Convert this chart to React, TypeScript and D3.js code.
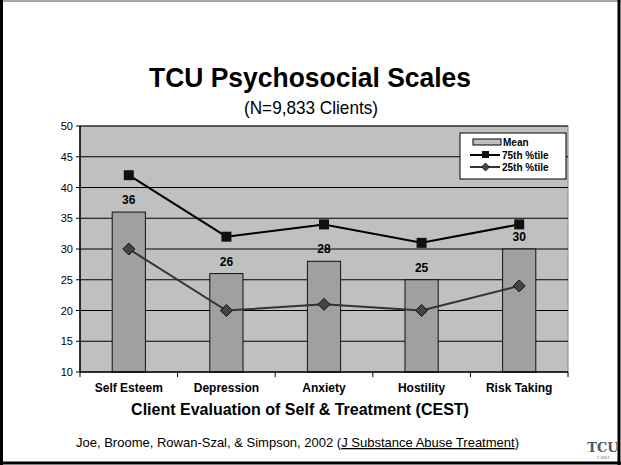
import React from "react";
import * as d3 from "d3";

const categories = ["Self Esteem", "Depression", "Anxiety", "Hostility", "Risk Taking"];
const meanValues = [36, 26, 28, 25, 30];
const p75Values = [42, 32, 34, 31, 34];
const p25Values = [30, 20, 21, 20, 24];
const yTicks = [10, 15, 20, 25, 30, 35, 40, 45, 50];

const W = 621;
const H = 465;
const plot = { left: 80, right: 568, top: 126, bottom: 372 };
const font = "'Liberation Sans', Arial, sans-serif";

export default function App() {
  const x = d3
    .scaleBand<string>()
    .domain(categories)
    .range([plot.left, plot.right])
    .paddingInner(0.66)
    .paddingOuter(0.33);
  const band = d3.scaleBand<string>().domain(categories).range([plot.left, plot.right]);
  const y = d3.scaleLinear().domain([10, 50]).range([plot.bottom, plot.top]);
  const cx = (c: string) => (x(c) as number) + x.bandwidth() / 2;

  const line = d3
    .line<number>()
    .x((_, i) => cx(categories[i]))
    .y((d) => y(d));

  return (
    <svg
      width={W}
      height={H}
      style={{ position: "absolute", left: 0, top: 0, background: "#fff" }}
      fontFamily={font}
    >
      {/* slide frame */}
      <line x1={0} y1={1} x2={W} y2={1} stroke="#888" strokeWidth={1.5} />
      <line x1={1.5} y1={0} x2={1.5} y2={H} stroke="#000" strokeWidth={3} />
      <line x1={W - 2} y1={0} x2={W - 2} y2={H} stroke="#000" strokeWidth={3} />
      <line x1={0} y1={H - 2} x2={W} y2={H - 2} stroke="#000" strokeWidth={3} />

      <text
        x={310}
        y={87}
        textAnchor="middle"
        fontSize={27}
        fontWeight="bold"
        textLength={322}
        lengthAdjust="spacingAndGlyphs"
      >
        TCU Psychosocial Scales
      </text>
      <text
        x={311}
        y={114}
        textAnchor="middle"
        fontSize={19}
        textLength={134}
        lengthAdjust="spacingAndGlyphs"
      >
        (N=9,833 Clients)
      </text>

      {/* plot area */}
      <rect
        x={plot.left}
        y={plot.top}
        width={plot.right - plot.left}
        height={plot.bottom - plot.top}
        fill="#c0c0c0"
        stroke="#888"
        strokeWidth={1}
      />
      {yTicks.map((t) => (
        <g key={t}>
          {t > 10 && (
            <line x1={plot.left} x2={plot.right} y1={y(t)} y2={y(t)} stroke="#000" strokeWidth={1} />
          )}
          <line x1={plot.left - 4} x2={plot.left} y1={y(t)} y2={y(t)} stroke="#000" />
          <text x={plot.left - 7} y={y(t) + 4} textAnchor="end" fontSize={11}>
            {t}
          </text>
        </g>
      ))}

      {/* bars */}
      {categories.map((c, i) => (
        <g key={c}>
          <rect
            x={x(c)}
            y={y(meanValues[i])}
            width={x.bandwidth()}
            height={plot.bottom - y(meanValues[i])}
            fill="#a0a0a0"
            stroke="#111"
            strokeWidth={1}
          />
          <text x={cx(c)} y={y(meanValues[i]) - 8} textAnchor="middle" fontSize={12} fontWeight="bold">
            {meanValues[i]}
          </text>
        </g>
      ))}

      {/* axes */}
      <line x1={plot.left} x2={plot.left} y1={plot.top} y2={plot.bottom} stroke="#000" strokeWidth={1.5} />
      <line x1={plot.left} x2={plot.right} y1={plot.bottom} y2={plot.bottom} stroke="#000" strokeWidth={1.5} />
      {categories.map((c) => (
        <line
          key={c}
          x1={band(c)}
          x2={band(c)}
          y1={plot.bottom}
          y2={plot.bottom + 5}
          stroke="#000"
        />
      ))}
      <line x1={plot.right} x2={plot.right} y1={plot.bottom} y2={plot.bottom + 5} stroke="#000" />
      {categories.map((c) => (
        <text key={c} x={cx(c)} y={392} textAnchor="middle" fontSize={12} fontWeight="bold">
          {c}
        </text>
      ))}
      <text x={300} y={415} textAnchor="middle" fontSize={16} fontWeight="bold">
        Client Evaluation of Self &amp; Treatment (CEST)
      </text>

      {/* lines */}
      <path d={line(p75Values) ?? ""} fill="none" stroke="#000" strokeWidth={2} />
      <path d={line(p25Values) ?? ""} fill="none" stroke="#333" strokeWidth={2} />
      {categories.map((c, i) => (
        <g key={c}>
          <rect x={cx(c) - 5} y={y(p75Values[i]) - 5} width={10} height={10} fill="#111" />
          <path
            d={`M${cx(c)},${y(p25Values[i]) - 6}l6,6l-6,6l-6,-6z`}
            fill="#444"
            stroke="#111"
            strokeWidth={1}
          />
        </g>
      ))}

      {/* legend */}
      <rect x={460} y={133} width={106} height={46} fill="#fff" stroke="#000" strokeWidth={1} />
      <rect x={473} y={139} width={28} height={6} fill="#c0c0c0" stroke="#000" strokeWidth={1} />
      <text x={503} y={146} fontSize={10} fontWeight="bold">Mean</text>
      <line x1={470} x2={500} y1={155} y2={155} stroke="#000" strokeWidth={2} />
      <rect x={482} y={151} width={7} height={7} fill="#111" />
      <text x={502} y={159} fontSize={10} fontWeight="bold">75th %tile</text>
      <line x1={470} x2={500} y1={167} y2={167} stroke="#333" strokeWidth={2} />
      <path d="M485.5,163l4,4l-4,4l-4,-4z" fill="#444" stroke="#111" strokeWidth={0.8} />
      <text x={502} y={171} fontSize={10} fontWeight="bold">25th %tile</text>

      {/* citation */}
      <text x={76} y={447} fontSize={13}>
        Joe, Broome, Rowan-Szal, &amp; Simpson, 2002 (
        <tspan textDecoration="underline">J Substance Abuse Treatment</tspan>)
      </text>
      <text x={603} y={452} textAnchor="middle" fontSize={13} fontWeight="bold" fill="#555" fontFamily="'DejaVu Serif', serif">
        TCU
      </text>
      <text x={603} y={459} textAnchor="middle" fontSize={4} fill="#555">
        © 2007
      </text>
    </svg>
  );
}
